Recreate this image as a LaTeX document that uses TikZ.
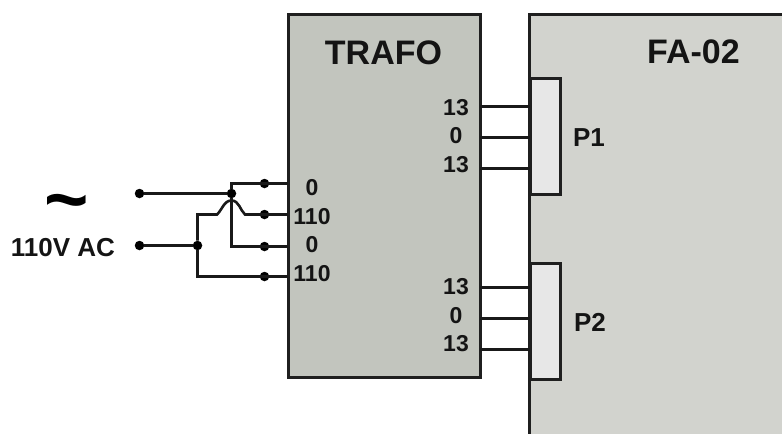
\documentclass[tikz,border=0pt]{standalone}
\usepackage{fontspec}
\setmainfont{Liberation Sans}
\begin{document}
\begin{tikzpicture}[x=1pt,y=-1pt,
  wire/.style={line width=2.6pt,black!90,line join=miter},
  box/.style={line width=2.8pt,draw=black!88},
  dot/.style={circle,fill=black,inner sep=0pt,minimum size=9.5pt},
  jdot/.style={circle,fill=black,inner sep=0pt,minimum size=9.5pt},
  lab/.style={font=\bfseries\fontsize{23}{23}\selectfont,inner sep=0pt,text=black!92},
  big/.style={font=\bfseries\fontsize{34}{34}\selectfont,inner sep=0pt,text=black!92},
  port/.style={font=\bfseries\fontsize{26}{26}\selectfont,inner sep=0pt,text=black!92}]
\useasboundingbox (0,0) rectangle (782,434);
\definecolor{trafo}{RGB}{194,197,190}
\definecolor{fa}{RGB}{210,211,206}
\definecolor{pc}{RGB}{231,231,231}
% boxes
\fill[fa] (529.5,14.5) rectangle (782,434);
\draw[box] (782,14.5) -- (529.5,14.5) -- (529.5,434);
\draw[box,fill=trafo] (288.5,14.5) rectangle (480.5,377.5);
\draw[box,fill=pc] (530.5,78.5) rectangle (560.5,194.5);
\draw[box,fill=pc] (530.5,263.5) rectangle (560.5,379.5);
% anchors
\node[big] (t) at (383.5,53) {TRAFO};
\node[big] (f) at (693.5,52) {FA-02};
\node[port] (p1) at (589,138) {P1};
\node[port] (p2) at (590,322) {P2};
\node[font=\bfseries\fontsize{76}{76}\selectfont,inner sep=0pt,text=black] (tilde) at (67,210) {\char"7E};
\node[font=\bfseries\fontsize{26}{26}\selectfont,inner sep=0pt,text=black!92] (ac) at (63,247.5) {110V AC};
% terminals
\node[dot] (in1) at (139.5,193.5) {};
\node[dot] (in2) at (139.5,245.5) {};
\node[jdot] (j1) at (231.5,193.5) {};
\node[jdot] (j2) at (197.5,245.5) {};
\node[dot] (d1) at (264.5,183.5) {};
\node[dot] (d2) at (264.5,214.5) {};
\node[dot] (d3) at (264.5,246.5) {};
\node[dot] (d4) at (264.5,276.5) {};
\coordinate (e1) at (288,183.5);
\coordinate (e2) at (288,214.5);
\coordinate (e3) at (288,246.5);
\coordinate (e4) at (288,276.5);
\coordinate (h1) at (217,214.5);
\coordinate (h2) at (245,214.5);
% wires
\draw[wire] (in1) -- (j1);
\draw[wire] (in2) -- (j2);
\draw[wire] (j1) |- (e1);
\draw[wire] (j1) |- (e3);
\draw[wire] (j2) |- (h1) .. controls (222,210) and (224,200.5) .. (231.5,200.5) .. controls (239,200.5) and (240,210) .. (h2) -- (e2);
\draw[wire] (j2) |- (e4);
% outputs
\foreach \n/\y in {a/106.5,b/137.5,c/168.5,g/287.5,h/318.5,i/349.5}{
  \coordinate (l\n) at (480,\y);
  \coordinate (r\n) at (530,\y);
  \draw[wire] (l\n) -- (r\n);
}
% labels
\node[lab] (n1) at (312,187.5) {0};
\node[lab] (n2) at (312,216.5) {110};
\node[lab] (n3) at (312,245) {0};
\node[lab] (n4) at (312,273.5) {110};
\node[lab] (o1) at (456,108) {13};
\node[lab] (o2) at (456,136) {0};
\node[lab] (o3) at (456,165) {13};
\node[lab] (o4) at (456,287) {13};
\node[lab] (o5) at (456,315.5) {0};
\node[lab] (o6) at (456,344) {13};
\end{tikzpicture}
\end{document}
